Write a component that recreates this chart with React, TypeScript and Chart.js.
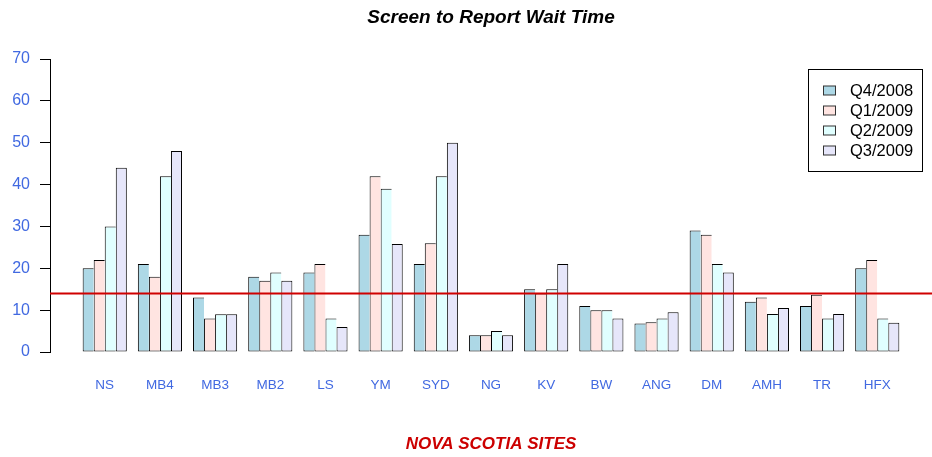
import React, { useEffect, useRef } from "react";
import { Chart, registerables } from "chart.js";

Chart.register(...registerables);

// ---- data ----
const categories = ["NS", "MB4", "MB3", "MB2", "LS", "YM", "SYD", "NG", "KV", "BW", "ANG", "DM", "AMH", "TR", "HFX"];
const seriesLabels = ["Q4/2008", "Q1/2009", "Q2/2009", "Q3/2009"];
const q4_2008 = [20, 21, 13, 18, 19, 28, 21, 4, 15, 11, 6.8, 29, 12, 11, 20];
const q1_2009 = [22, 18, 8, 17, 21, 42, 26, 4, 14, 10, 7.1, 28, 13, 13.7, 22];
const q2_2009 = [30, 42, 9, 19, 8, 39, 42, 5, 15, 10, 8, 21, 9.1, 8, 8];
const q3_2009 = [44, 48, 9, 17, 6, 25.8, 50, 4, 21, 8, 9.5, 19, 10.5, 9.1, 7];
const yMin = 0;
const yMax = 70;
const yStep = 10;
const threshold = 14;

const titleText = "Screen to Report Wait Time";
const xTitleText = "NOVA SCOTIA SITES";

// ---- styles ----
const seriesColors = ["#ADD8E6", "#FFE4E1", "#E0FFFF", "#E6E6FA"];
const tickBlue = "#4169E1";
const FONT = "'Liberation Sans', Arial, Helvetica, sans-serif";

// R barplot layout units: each group = 4 bars + 1 space
const groupSize = seriesLabels.length + 1;
const groupCenter = (i: number) => 1 + groupSize * i + seriesLabels.length / 2;
const spanUnits = groupSize * categories.length - 1;
const xMinUnits = 1 - 0.04 * spanUnits;
const xMaxUnits = groupSize * categories.length + 0.04 * spanUnits;

const allSeries = [q4_2008, q1_2009, q2_2009, q3_2009];

const decorPlugin = {
  id: "decor",
  afterDatasetsDraw(chart: any) {
    const { ctx, chartArea, scales } = chart;
    const y = scales.y.getPixelForValue(threshold);
    ctx.save();
    ctx.strokeStyle = "#D00000";
    ctx.lineWidth = 2;
    ctx.beginPath();
    ctx.moveTo(chartArea.left, y);
    ctx.lineTo(chartArea.right, y);
    ctx.stroke();
    ctx.restore();
  },
  afterDraw(chart: any) {
    const { ctx, chartArea } = chart;
    const cx = (chartArea.left + chartArea.right) / 2;
    ctx.save();
    // title
    ctx.fillStyle = "#000";
    ctx.font = `italic bold 19px ${FONT}`;
    ctx.textAlign = "center";
    ctx.textBaseline = "middle";
    ctx.fillText(titleText, cx, 18);
    // x title
    ctx.fillStyle = "#CC0000";
    ctx.font = `italic bold 17px ${FONT}`;
    ctx.fillText(xTitleText, cx, 444);

    // legend
    const bx = 808.5, by = 69.5, bw = 114, bh = 102;
    ctx.strokeStyle = "#000";
    ctx.lineWidth = 1;
    ctx.strokeRect(bx, by, bw, bh);
    ctx.font = `16.5px ${FONT}`;
    ctx.textAlign = "left";
    ctx.textBaseline = "middle";
    chart.data.datasets.forEach((ds: any, i: number) => {
      const ry = 90.5 + i * 20;
      ctx.fillStyle = ds.backgroundColor;
      ctx.fillRect(823.5, ry - 4.5, 12, 9);
      ctx.strokeStyle = "#333";
      ctx.strokeRect(823.5, ry - 4.5, 12, 9);
      ctx.fillStyle = "#000";
      ctx.fillText(ds.label, 850, ry + 1);
    });
    ctx.restore();
  },
};

export default function App() {
  const ref = useRef<HTMLCanvasElement | null>(null);

  useEffect(() => {
    if (!ref.current) return;
    const datasets = allSeries.map((vals, si) => ({
      label: seriesLabels[si],
      data: vals.map((v, k) => ({ x: groupCenter(k), y: v })),
      backgroundColor: seriesColors[si],
      borderColor: "#000",
      borderWidth: { top: 1, left: 1, bottom: 1, right: si === allSeries.length - 1 ? 1 : 0 },
      borderSkipped: false,
      inflateAmount: 0,
      categoryPercentage: seriesLabels.length / groupSize,
      barPercentage: 1,
    }));

    const chart = new Chart(ref.current, {
      type: "bar",
      data: { datasets: datasets as any },
      options: {
        animation: false,
        responsive: false,
        devicePixelRatio: 1,
        layout: { padding: { top: 59, left: 0, right: 0, bottom: 0 } },
        plugins: {
          legend: { display: false },
          title: { display: false },
          tooltip: { enabled: false },
        },
        scales: {
          x: {
            type: "linear",
            min: xMinUnits,
            max: xMaxUnits,
            offset: false,
            grid: { display: false, offset: false },
            border: { display: false },
            afterBuildTicks: (axis: any) => {
              axis.ticks = categories.map((_, i) => ({ value: groupCenter(i) }));
            },
            afterFit: (axis: any) => {
              axis.height = 105;
            },
            ticks: {
              autoSkip: false,
              maxRotation: 0,
              minRotation: 0,
              padding: 17,
              color: tickBlue,
              font: { family: FONT, size: 13.5 },
              callback: (_v: any, i: number) => categories[i],
            },
          },
          y: {
            type: "linear",
            min: yMin,
            max: yMax,
            grid: {
              display: true,
              drawOnChartArea: false,
              drawTicks: true,
              tickLength: 10,
              color: "#000",
            },
            border: { display: true, color: "#000", width: 1 },
            afterFit: (axis: any) => {
              axis.width = 50;
            },
            ticks: {
              stepSize: yStep,
              padding: 10,
              color: tickBlue,
              font: { family: FONT, size: 16 },
            },
          },
        },
      } as any,
      plugins: [decorPlugin],
    });
    return () => chart.destroy();
  }, []);

  return (
    <div style={{ position: "absolute", left: 0, top: 0, width: 932, height: 457, background: "#fff" }}>
      <canvas ref={ref} width={932} height={457} style={{ display: "block" }} />
    </div>
  );
}
